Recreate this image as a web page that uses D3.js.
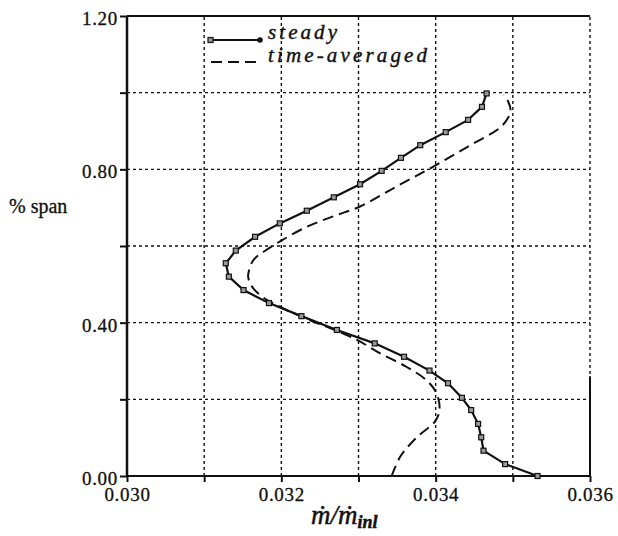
<!DOCTYPE html>
<html>
<head>
<meta charset="utf-8">
<script src="https://cdn.jsdelivr.net/npm/d3@7"></script>
<style>
  body { margin: 0; background: #fff; }
  svg text { font-family: "Liberation Serif", serif; }
</style>
</head>
<body>
<div id="chart"></div>
<script>
// steady profile: [m/m_inl, % span]
const steadyX = [0.03532, 0.03490, 0.03462, 0.03459, 0.03455, 0.03446, 0.03434, 0.03416, 0.03392, 0.03359,
                 0.03321, 0.03272, 0.03226, 0.03184, 0.03151, 0.03132, 0.03128, 0.03141, 0.03166, 0.03198,
                 0.03233, 0.03268, 0.03302, 0.03330, 0.03355, 0.03380, 0.03413, 0.03442, 0.03460, 0.03466];
const steadyY = [0.000, 0.031, 0.066, 0.101, 0.136, 0.172, 0.204, 0.242, 0.275, 0.311,
                 0.346, 0.381, 0.417, 0.451, 0.485, 0.520, 0.555, 0.588, 0.624, 0.659,
                 0.692, 0.727, 0.761, 0.796, 0.830, 0.863, 0.897, 0.929, 0.963, 0.998];

// time-averaged profile
const avgX = [0.03343, 0.03354, 0.03375, 0.03399, 0.03405, 0.03401, 0.03388, 0.03362, 0.03328, 0.03298,
              0.03263, 0.03241, 0.03210, 0.03190, 0.03175, 0.03162, 0.03157, 0.03159, 0.03164, 0.03177,
              0.03200, 0.03233, 0.03268, 0.03302, 0.03349, 0.03397, 0.03444, 0.03483, 0.03494, 0.03497,
              0.03494, 0.03488];
const avgY = [0.000, 0.050, 0.100, 0.142, 0.172, 0.216, 0.250, 0.285, 0.320, 0.355,
              0.386, 0.403, 0.430, 0.450, 0.468, 0.494, 0.520, 0.542, 0.564, 0.585,
              0.614, 0.650, 0.678, 0.703, 0.755, 0.807, 0.862, 0.908, 0.935, 0.955,
              0.977, 0.995];

const xTicks = [0.030, 0.031, 0.032, 0.033, 0.034, 0.035, 0.036];
const xLabels = ["0.030", "", "0.032", "", "0.034", "", "0.036"];
const yTicks = [0.0, 0.2, 0.4, 0.6, 0.8, 1.0, 1.2];
const yLabels = ["0.00", "", "0.40", "", "0.80", "", "1.20"];
const seriesNames = ["steady", "time-averaged"];

const width = 618, height = 536;
const margin = { top: 16, right: 28, bottom: 60, left: 127 };

const svg = d3.select("#chart").append("svg")
    .attr("width", width)
    .attr("height", height);

const x = d3.scaleLinear().domain([0.030, 0.036]).range([margin.left, width - margin.right]);
const y = d3.scaleLinear().domain([0, 1.2]).range([height - margin.bottom, margin.top]);

const steady = steadyX.map((v, i) => [v, steadyY[i]]);
const averaged = avgX.map((v, i) => [v, avgY[i]]);

// dotted grid
svg.append("g").selectAll("line")
    .data(xTicks.slice(1))
    .join("line")
    .attr("x1", d => x(d)).attr("x2", d => x(d))
    .attr("y1", y(0)).attr("y2", y(1.2))
    .attr("stroke", "#111").attr("stroke-width", 1.4)
    .attr("stroke-dasharray", "3,3");

svg.append("g").selectAll("line")
    .data(yTicks.slice(1, -1))
    .join("line")
    .attr("x1", x(0.030)).attr("x2", x(0.036))
    .attr("y1", d => y(d)).attr("y2", d => y(d))
    .attr("stroke", "#111").attr("stroke-width", 1.4)
    .attr("stroke-dasharray", "3,3");

// frame
const frame = svg.append("g").attr("stroke", "#111").attr("fill", "none");
frame.append("line").attr("x1", x(0.030)).attr("x2", x(0.030)).attr("y1", y(0)).attr("y2", y(1.2)).attr("stroke-width", 2.5);
frame.append("line").attr("x1", x(0.030)).attr("x2", x(0.036)).attr("y1", y(0)).attr("y2", y(0)).attr("stroke-width", 2.2);
frame.append("line").attr("x1", x(0.030)).attr("x2", x(0.036)).attr("y1", y(1.2)).attr("y2", y(1.2)).attr("stroke-width", 2.2);
frame.append("line").attr("x1", x(0.036)).attr("x2", x(0.036)).attr("y1", y(0)).attr("y2", y(0.26)).attr("stroke-width", 2);

// axes
const xAxis = svg.append("g")
    .attr("transform", `translate(0,${y(0)})`)
    .call(d3.axisBottom(x).tickValues(xTicks).tickSize(6).tickPadding(5)
        .tickFormat((d, i) => xLabels[i]));
const yAxis = svg.append("g")
    .attr("transform", `translate(${x(0.030)},0)`)
    .call(d3.axisLeft(y).tickValues(yTicks).tickSize(7).tickPadding(2)
        .tickFormat((d, i) => yLabels[i]));

[xAxis, yAxis].forEach(g => {
    g.attr("font-family", null).attr("font-size", null);
    g.select(".domain").remove();
    g.selectAll(".tick line").attr("stroke", "#111").attr("stroke-width", 2);
    g.selectAll(".tick text")
        .attr("fill", "#111")
        .attr("stroke", "#111").attr("stroke-width", 0.3)
        .attr("font-family", "Liberation Serif")
        .style("font-size", "19px")
        .style("letter-spacing", "0.7px");
});
xAxis.selectAll(".tick text").attr("dy", "0.72em");
yAxis.selectAll(".tick text").attr("dy", "0.45em");

// curves
svg.append("path")
    .datum(averaged)
    .attr("fill", "none")
    .attr("stroke", "#111")
    .attr("stroke-width", 2)
    .attr("stroke-dasharray", "11,6")
    .attr("d", d3.line().x(d => x(d[0])).y(d => y(d[1])).curve(d3.curveCatmullRom));

svg.append("path")
    .datum(steady)
    .attr("fill", "none")
    .attr("stroke", "#111")
    .attr("stroke-width", 2.2)
    .attr("d", d3.line().x(d => x(d[0])).y(d => y(d[1])));

svg.append("g").selectAll("rect")
    .data(steady)
    .join("rect")
    .attr("x", d => x(d[0]) - 2.5)
    .attr("y", d => y(d[1]) - 2.5)
    .attr("width", 5).attr("height", 5)
    .attr("fill", "#999")
    .attr("stroke", "#111")
    .attr("stroke-width", 1.2);

// legend
const legend = svg.append("g");
legend.append("line").attr("x1", 211).attr("x2", 260).attr("y1", 40).attr("y2", 40)
    .attr("stroke", "#111").attr("stroke-width", 2);
legend.append("rect").attr("x", 208).attr("y", 37.5).attr("width", 5).attr("height", 5)
    .attr("fill", "#999").attr("stroke", "#111").attr("stroke-width", 1.2);
legend.append("circle").attr("cx", 260).attr("cy", 40).attr("r", 2.8).attr("fill", "#111");
legend.append("line").attr("x1", 211).attr("x2", 260).attr("y1", 62).attr("y2", 62)
    .attr("stroke", "#111").attr("stroke-width", 2).attr("stroke-dasharray", "11,6");
legend.selectAll("text")
    .data(seriesNames)
    .join("text")
    .attr("x", 268)
    .attr("y", (d, i) => 39 + i * 23)
    .attr("textLength", (d, i) => i === 0 ? 69 : 159)
    .attr("lengthAdjust", "spacing")
    .style("font-style", "italic")
    .style("font-size", "21px")
    .attr("fill", "#111")
    .attr("stroke", "#111").attr("stroke-width", 0.4)
    .text(d => d);

// axis titles
svg.append("text")
    .attr("x", 9).attr("y", 213)
    .style("font-size", "20px")
    .attr("fill", "#111")
    .attr("stroke", "#111").attr("stroke-width", 0.3)
    .text("% span");

const xt = svg.append("text")
    .attr("x", 311).attr("y", 524)
    .style("font-size", "27px")
    .style("font-style", "italic")
    .attr("fill", "#111")
    .attr("stroke", "#111").attr("stroke-width", 0.5);
xt.append("tspan").text("ṁ/ṁ");
xt.append("tspan").attr("dy", 4).style("font-size", "18px").style("font-weight", "bold").text("inl");
</script>
</body>
</html>
